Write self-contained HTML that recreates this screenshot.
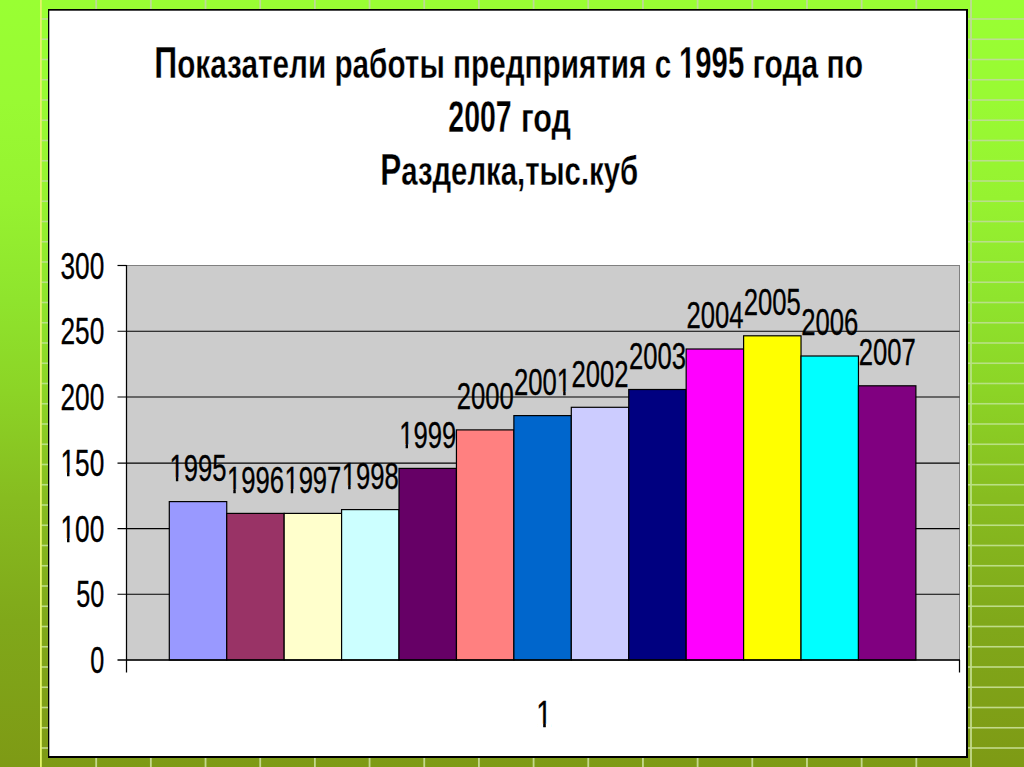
<!DOCTYPE html>
<html><head><meta charset="utf-8">
<style>
html,body{margin:0;padding:0;width:1024px;height:767px;overflow:hidden;background:#8CD426;}
body{position:relative;font-family:"Liberation Sans",sans-serif;}
svg{position:absolute;left:0;top:0;display:block}
</style></head><body>
<svg width="1024" height="767" viewBox="0 0 1024 767">
<defs>
<linearGradient id="bg" x1="0" y1="0" x2="0" y2="1">
<stop offset="0" stop-color="#99FF33"/>
<stop offset="0.13" stop-color="#99FA33"/>
<stop offset="0.26" stop-color="#96F230"/>
<stop offset="0.39" stop-color="#8FE42D"/>
<stop offset="0.51" stop-color="#8CD426"/>
<stop offset="0.65" stop-color="#87BC20"/>
<stop offset="0.81" stop-color="#80A81A"/>
<stop offset="1" stop-color="#7E9A15"/>
</linearGradient>
<linearGradient id="lg" gradientUnits="userSpaceOnUse" x1="0" y1="0" x2="0" y2="767">
<stop offset="0" stop-color="rgb(190,220,150)"/><stop offset="0.52" stop-color="rgb(182,226,128)"/><stop offset="1" stop-color="rgb(196,216,140)"/>
</linearGradient>
</defs>
<rect x="0" y="0" width="1024" height="767" fill="url(#bg)"/>

<rect x="95.28" y="0" width="1.8" height="767" fill="url(#lg)"/>
<rect x="149.95" y="0" width="1.8" height="767" fill="url(#lg)"/>
<rect x="204.63" y="0" width="1.8" height="767" fill="url(#lg)"/>
<rect x="259.31" y="0" width="1.8" height="767" fill="url(#lg)"/>
<rect x="313.98" y="0" width="1.8" height="767" fill="url(#lg)"/>
<rect x="368.66" y="0" width="1.8" height="767" fill="url(#lg)"/>
<rect x="423.34" y="0" width="1.8" height="767" fill="url(#lg)"/>
<rect x="478.01" y="0" width="1.8" height="767" fill="url(#lg)"/>
<rect x="532.69" y="0" width="1.8" height="767" fill="url(#lg)"/>
<rect x="587.36" y="0" width="1.8" height="767" fill="url(#lg)"/>
<rect x="642.04" y="0" width="1.8" height="767" fill="url(#lg)"/>
<rect x="696.72" y="0" width="1.8" height="767" fill="url(#lg)"/>
<rect x="751.39" y="0" width="1.8" height="767" fill="url(#lg)"/>
<rect x="806.07" y="0" width="1.8" height="767" fill="url(#lg)"/>
<rect x="860.75" y="0" width="1.8" height="767" fill="url(#lg)"/>
<rect x="915.42" y="0" width="1.8" height="767" fill="url(#lg)"/>
<rect x="970.10" y="0" width="1.8" height="767" fill="url(#lg)"/>
<rect x="41" y="18.20" width="983" height="1.6" fill="rgb(190, 220, 149)"/>
<rect x="41" y="38.45" width="983" height="1.6" fill="rgb(189, 221, 148)"/>
<rect x="41" y="58.70" width="983" height="1.6" fill="rgb(189, 221, 147)"/>
<rect x="41" y="78.95" width="983" height="1.6" fill="rgb(188, 221, 146)"/>
<rect x="41" y="99.20" width="983" height="1.6" fill="rgb(188, 222, 144)"/>
<rect x="41" y="119.45" width="983" height="1.6" fill="rgb(188, 222, 143)"/>
<rect x="41" y="139.70" width="983" height="1.6" fill="rgb(187, 222, 142)"/>
<rect x="41" y="159.95" width="983" height="1.6" fill="rgb(187, 222, 141)"/>
<rect x="41" y="180.20" width="983" height="1.6" fill="rgb(186, 223, 140)"/>
<rect x="41" y="200.45" width="983" height="1.6" fill="rgb(186, 223, 139)"/>
<rect x="41" y="220.70" width="983" height="1.6" fill="rgb(186, 223, 138)"/>
<rect x="41" y="240.95" width="983" height="1.6" fill="rgb(185, 224, 137)"/>
<rect x="41" y="261.20" width="983" height="1.6" fill="rgb(185, 224, 136)"/>
<rect x="41" y="281.45" width="983" height="1.6" fill="rgb(184, 224, 134)"/>
<rect x="41" y="301.70" width="983" height="1.6" fill="rgb(184, 225, 133)"/>
<rect x="41" y="321.95" width="983" height="1.6" fill="rgb(184, 225, 132)"/>
<rect x="41" y="342.20" width="983" height="1.6" fill="rgb(183, 225, 131)"/>
<rect x="41" y="362.45" width="983" height="1.6" fill="rgb(183, 225, 130)"/>
<rect x="41" y="382.70" width="983" height="1.6" fill="rgb(182, 226, 129)"/>
<rect x="41" y="402.95" width="983" height="1.6" fill="rgb(182, 226, 128)"/>
<rect x="41" y="423.20" width="983" height="1.6" fill="rgb(183, 225, 129)"/>
<rect x="41" y="443.45" width="983" height="1.6" fill="rgb(184, 225, 129)"/>
<rect x="41" y="463.70" width="983" height="1.6" fill="rgb(184, 224, 130)"/>
<rect x="41" y="483.95" width="983" height="1.6" fill="rgb(185, 224, 131)"/>
<rect x="41" y="504.20" width="983" height="1.6" fill="rgb(186, 223, 131)"/>
<rect x="41" y="524.45" width="983" height="1.6" fill="rgb(187, 223, 132)"/>
<rect x="41" y="544.70" width="983" height="1.6" fill="rgb(188, 222, 133)"/>
<rect x="41" y="564.95" width="983" height="1.6" fill="rgb(188, 221, 133)"/>
<rect x="41" y="585.20" width="983" height="1.6" fill="rgb(189, 221, 134)"/>
<rect x="41" y="605.45" width="983" height="1.6" fill="rgb(190, 220, 135)"/>
<rect x="41" y="625.70" width="983" height="1.6" fill="rgb(191, 220, 135)"/>
<rect x="41" y="645.95" width="983" height="1.6" fill="rgb(191, 219, 136)"/>
<rect x="41" y="666.20" width="983" height="1.6" fill="rgb(192, 219, 137)"/>
<rect x="41" y="686.45" width="983" height="1.6" fill="rgb(193, 218, 137)"/>
<rect x="41" y="706.70" width="983" height="1.6" fill="rgb(194, 218, 138)"/>
<rect x="41" y="726.95" width="983" height="1.6" fill="rgb(195, 217, 139)"/>
<rect x="41" y="747.20" width="983" height="1.6" fill="rgb(195, 217, 139)"/>
<rect x="40" y="0" width="1.8" height="767" fill="#E2F468"/>
<rect x="48" y="9" width="920" height="749" fill="#000"/>
<rect x="49.3" y="10.7" width="916.7" height="745.3" fill="#fff"/>
<g font-family="Liberation Sans" font-weight="bold" font-size="40.5" fill="#000" stroke="#fff" stroke-width="0.3" text-anchor="middle">
<text x="154.2" y="77.7" text-anchor="start" textLength="517" lengthAdjust="spacingAndGlyphs"><tspan font-size="43.5">П</tspan>оказатели работы предприятия с</text>
<text x="679.00" y="77.70" text-anchor="start" textLength="65.2" lengthAdjust="spacingAndGlyphs" clip-path="url(#c0)" font-size="43.5">1995</text>
<text x="752.5" y="77.7" text-anchor="start" textLength="110.5" lengthAdjust="spacingAndGlyphs">года по</text>
<text x="448.3" y="131.8" text-anchor="start" textLength="63.4" lengthAdjust="spacingAndGlyphs"><tspan font-size="43.5">2007</tspan></text>
<text x="520.9" y="131.8" text-anchor="start" textLength="50" lengthAdjust="spacingAndGlyphs">год</text>
<text x="509.2" y="185.1" textLength="258" lengthAdjust="spacingAndGlyphs"><tspan font-size="43.5">Р</tspan>азделка,тыс.куб</text>
</g>
<rect x="126.5" y="265.5" width="833" height="394.5" fill="#CCCCCC" stroke="#808080" stroke-width="1"/>
<line x1="117.5" y1="265.5" x2="126.5" y2="265.5" stroke="#000" stroke-width="1.2"/>
<line x1="117.5" y1="331.3" x2="959.5" y2="331.3" stroke="#000" stroke-width="1.1"/>
<line x1="117.5" y1="397.0" x2="959.5" y2="397.0" stroke="#000" stroke-width="1.1"/>
<line x1="117.5" y1="463.1" x2="959.5" y2="463.1" stroke="#000" stroke-width="1.1"/>
<line x1="117.5" y1="528.6" x2="959.5" y2="528.6" stroke="#000" stroke-width="1.1"/>
<line x1="117.5" y1="594.3" x2="959.5" y2="594.3" stroke="#000" stroke-width="1.1"/>
<rect x="169.30" y="501.6" width="57.43" height="158.40" fill="#9999FF" stroke="#000" stroke-width="1.2"/>
<rect x="226.73" y="513.4" width="57.43" height="146.60" fill="#993366" stroke="#000" stroke-width="1.2"/>
<rect x="284.16" y="513.4" width="57.43" height="146.60" fill="#FFFFCC" stroke="#000" stroke-width="1.2"/>
<rect x="341.59" y="509.6" width="57.43" height="150.40" fill="#CCFFFF" stroke="#000" stroke-width="1.2"/>
<rect x="399.02" y="468.4" width="57.43" height="191.60" fill="#660066" stroke="#000" stroke-width="1.2"/>
<rect x="456.45" y="429.9" width="57.43" height="230.10" fill="#FF8080" stroke="#000" stroke-width="1.2"/>
<rect x="513.88" y="415.6" width="57.43" height="244.40" fill="#0066CC" stroke="#000" stroke-width="1.2"/>
<rect x="571.31" y="407.3" width="57.43" height="252.70" fill="#CCCCFF" stroke="#000" stroke-width="1.2"/>
<rect x="628.74" y="389.5" width="57.43" height="270.50" fill="#000080" stroke="#000" stroke-width="1.2"/>
<rect x="686.17" y="349.0" width="57.43" height="311.00" fill="#FF00FF" stroke="#000" stroke-width="1.2"/>
<rect x="743.60" y="335.8" width="57.43" height="324.20" fill="#FFFF00" stroke="#000" stroke-width="1.2"/>
<rect x="801.03" y="356.0" width="57.43" height="304.00" fill="#00FFFF" stroke="#000" stroke-width="1.2"/>
<rect x="858.46" y="385.8" width="57.43" height="274.20" fill="#800080" stroke="#000" stroke-width="1.2"/>
<line x1="126.5" y1="265" x2="126.5" y2="672.5" stroke="#000" stroke-width="1.25"/>
<line x1="117.5" y1="660" x2="960" y2="660" stroke="#000" stroke-width="1.7"/>
<line x1="959.5" y1="660" x2="959.5" y2="672.5" stroke="#000" stroke-width="1.25"/>
<g font-family="Liberation Sans" font-size="36.5" fill="#000" stroke="#000" stroke-width="0.35" text-anchor="end">
<text x="104.30" y="278.70" text-anchor="end" textLength="43.8" lengthAdjust="spacingAndGlyphs" >300</text>
<text x="104.30" y="344.45" text-anchor="end" textLength="43.8" lengthAdjust="spacingAndGlyphs" >250</text>
<text x="104.30" y="410.20" text-anchor="end" textLength="43.8" lengthAdjust="spacingAndGlyphs" >200</text>
<text x="104.30" y="475.95" text-anchor="end" textLength="43.8" lengthAdjust="spacingAndGlyphs" clip-path="url(#c1)" >150</text>
<text x="104.30" y="541.70" text-anchor="end" textLength="43.8" lengthAdjust="spacingAndGlyphs" clip-path="url(#c2)" >100</text>
<text x="104.30" y="607.45" text-anchor="end" textLength="28" lengthAdjust="spacingAndGlyphs" >50</text>
<text x="104.30" y="673.20" text-anchor="end" textLength="14" lengthAdjust="spacingAndGlyphs" >0</text>
</g>
<g font-family="Liberation Sans" font-size="36.5" fill="#000" stroke="#000" stroke-width="0.35" text-anchor="middle">
<text x="198.02" y="480.90" text-anchor="middle" textLength="57" lengthAdjust="spacingAndGlyphs" clip-path="url(#c3)" >1995</text>
<text x="255.45" y="492.70" text-anchor="middle" textLength="57" lengthAdjust="spacingAndGlyphs" clip-path="url(#c4)" >1996</text>
<text x="312.88" y="492.70" text-anchor="middle" textLength="57" lengthAdjust="spacingAndGlyphs" clip-path="url(#c5)" >1997</text>
<text x="370.31" y="488.90" text-anchor="middle" textLength="57" lengthAdjust="spacingAndGlyphs" clip-path="url(#c6)" >1998</text>
<text x="427.73" y="447.70" text-anchor="middle" textLength="57" lengthAdjust="spacingAndGlyphs" clip-path="url(#c7)" >1999</text>
<text x="485.16" y="409.20" text-anchor="middle" textLength="57" lengthAdjust="spacingAndGlyphs" >2000</text>
<text x="542.60" y="394.90" text-anchor="middle" textLength="57" lengthAdjust="spacingAndGlyphs" clip-path="url(#c8)" >2001</text>
<text x="600.02" y="386.60" text-anchor="middle" textLength="57" lengthAdjust="spacingAndGlyphs" >2002</text>
<text x="657.46" y="368.80" text-anchor="middle" textLength="57" lengthAdjust="spacingAndGlyphs" >2003</text>
<text x="714.89" y="328.30" text-anchor="middle" textLength="57" lengthAdjust="spacingAndGlyphs" >2004</text>
<text x="772.31" y="315.10" text-anchor="middle" textLength="57" lengthAdjust="spacingAndGlyphs" >2005</text>
<text x="829.75" y="335.30" text-anchor="middle" textLength="57" lengthAdjust="spacingAndGlyphs" >2006</text>
<text x="887.18" y="365.10" text-anchor="middle" textLength="57" lengthAdjust="spacingAndGlyphs" >2007</text>
</g>
<g font-family="Liberation Sans" font-size="36.5" fill="#000" stroke="#000" stroke-width="0.35">
<text x="544.00" y="727.00" text-anchor="middle" textLength="15.5" lengthAdjust="spacingAndGlyphs" clip-path="url(#c9)" >1</text>
</g>
<defs><clipPath id="c0" clipPathUnits="userSpaceOnUse"><path clip-rule="evenodd" d="M659.00,17.70H764.20V97.70H659.00ZM679.85,72.66H685.79V80.70H679.85ZM689.91,72.66H695.28V80.70H689.91Z"/></clipPath><clipPath id="c1" clipPathUnits="userSpaceOnUse"><path clip-rule="evenodd" d="M40.50,415.95H124.30V495.95H40.50ZM61.29,472.62H67.05V478.95H61.29ZM69.47,472.62H74.89V478.95H69.47Z"/></clipPath><clipPath id="c2" clipPathUnits="userSpaceOnUse"><path clip-rule="evenodd" d="M40.50,481.70H124.30V561.70H40.50ZM61.29,538.37H67.05V544.70H61.29ZM69.47,538.37H74.89V544.70H69.47Z"/></clipPath><clipPath id="c3" clipPathUnits="userSpaceOnUse"><path clip-rule="evenodd" d="M149.52,420.90H246.52V500.90H149.52ZM170.27,477.57H175.91V483.90H170.27ZM178.27,477.57H183.58V483.90H178.27Z"/></clipPath><clipPath id="c4" clipPathUnits="userSpaceOnUse"><path clip-rule="evenodd" d="M206.95,432.70H303.95V512.70H206.95ZM227.70,489.37H233.34V495.70H227.70ZM235.70,489.37H241.01V495.70H235.70Z"/></clipPath><clipPath id="c5" clipPathUnits="userSpaceOnUse"><path clip-rule="evenodd" d="M264.38,432.70H361.38V512.70H264.38ZM285.13,489.37H290.77V495.70H285.13ZM293.13,489.37H298.44V495.70H293.13Z"/></clipPath><clipPath id="c6" clipPathUnits="userSpaceOnUse"><path clip-rule="evenodd" d="M321.81,428.90H418.81V508.90H321.81ZM342.56,485.57H348.20V491.90H342.56ZM350.56,485.57H355.87V491.90H350.56Z"/></clipPath><clipPath id="c7" clipPathUnits="userSpaceOnUse"><path clip-rule="evenodd" d="M379.23,387.70H476.23V467.70H379.23ZM399.99,444.37H405.63V450.70H399.99ZM407.99,444.37H413.30V450.70H407.99Z"/></clipPath><clipPath id="c8" clipPathUnits="userSpaceOnUse"><path clip-rule="evenodd" d="M494.10,334.90H591.10V414.90H494.10ZM557.60,391.57H563.24V397.90H557.60ZM565.60,391.57H570.91V397.90H565.60Z"/></clipPath><clipPath id="c9" clipPathUnits="userSpaceOnUse"><path clip-rule="evenodd" d="M516.25,667.00H571.75V747.00H516.25ZM537.16,723.67H543.21V730.00H537.16ZM545.77,723.67H551.47V730.00H545.77Z"/></clipPath></defs>
</svg>
</body></html>
